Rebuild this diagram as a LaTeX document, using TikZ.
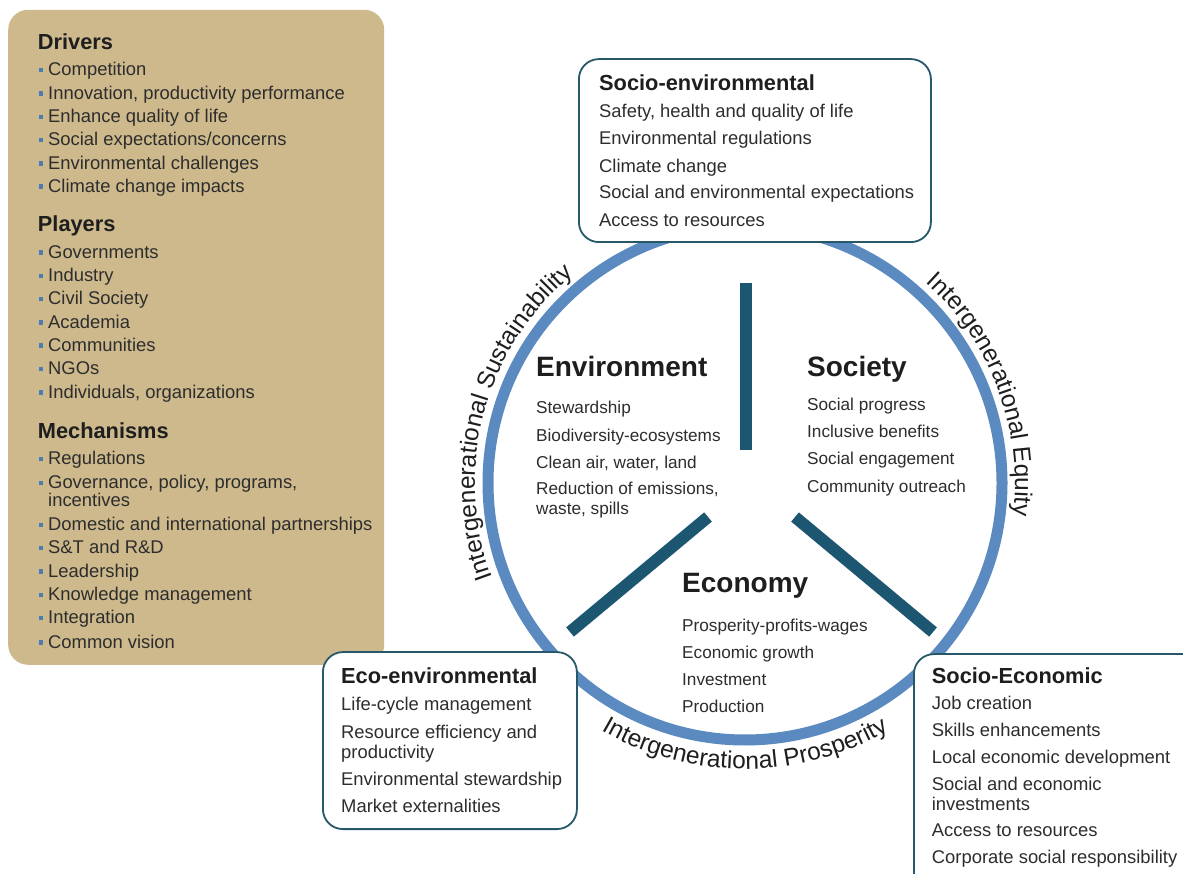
\documentclass[tikz,border=0pt]{standalone}
\usepackage{fontspec}
\setmainfont{Liberation Sans}
\usetikzlibrary{decorations.text}

\definecolor{panel}{RGB}{205,185,140}
\definecolor{ringblue}{RGB}{90,138,192}
\definecolor{spoke}{RGB}{28,86,112}
\definecolor{frame}{RGB}{38,88,106}
\definecolor{bulletblue}{RGB}{74,126,178}
\definecolor{ink}{RGB}{30,30,30}
\definecolor{txt}{RGB}{45,45,45}

% small square bullet used in the left panel
\newcommand\sqbul{{\color{bulletblue}\rule[3.5pt]{4.5pt}{4.5pt}}\hspace{5.2pt}}
\newcommand\arcfont{\fontsize{24.5}{24.5}\selectfont}

\tikzset{
  head/.style={anchor=base west, inner sep=0pt, text=ink,
    font=\bfseries\fontsize{21.8}{24}\selectfont},
  item/.style={anchor=base west, inner sep=0pt, text=txt,
    font=\fontsize{18.4}{22}\selectfont},
  inneritem/.style={item, font=\fontsize{17.2}{20}\selectfont},
  bighead/.style={head, font=\bfseries\fontsize{28}{30}\selectfont},
  infobox/.style={draw=frame, line width=1.8pt, fill=white,
    rounded corners=20pt, anchor=south west, inner sep=0pt},
  arclabel/.style={decorate, decoration={text along path,
    text align=center, text color=ink, text={|\arcfont|#1}}}
}

\begin{document}
\begin{tikzpicture}[x=1pt, y=1pt]
\useasboundingbox (0,0) rectangle (1183,873);
\clip (0,0) rectangle (1183,873);
\fill[white] (0,0) rectangle (1183,873);

% ---------------- left panel ----------------
\node[fill=panel, rounded corners=20pt, anchor=south west, inner sep=0pt,
      minimum width=376pt, minimum height=655pt] (panel) at (8,208) {};

\node[head] (drivers) at (37.7,823) {Drivers};
\foreach \t [count=\i] in {Competition, {Innovation, productivity performance},
    Enhance quality of life, Social expectations/concerns,
    Environmental challenges, Climate change impacts}
  \node[item] (drv\i) at (38.3,{797-23.3*(\i-1)}) {\sqbul\t};

\node[head] (players) at (37.7,641.3) {Players};
\foreach \t [count=\i] in {Governments, Industry, Civil Society, Academia,
    Communities, NGOs, {Individuals, organizations}}
  \node[item] (ply\i) at (38.3,{614.7-23.3*(\i-1)}) {\sqbul\t};

\node[head] (mech) at (37.7,434.7) {Mechanisms};
\node[item] (mec1) at (38.3,408) {\sqbul Regulations};
\node[item] (mec2) at (38.3,384) {\sqbul Governance, policy, programs,};
\node[item] (mec2b) at (48,366.3) {incentives};
\node[item] (mec3) at (38.3,342.3) {\sqbul Domestic and international partnerships};
\node[item] (mec4) at (38.3,319) {\sqbul S\&T and R\&D};
\node[item] (mec5) at (38.3,295.7) {\sqbul Leadership};
\node[item] (mec6) at (38.3,272.3) {\sqbul Knowledge management};
\node[item] (mec7) at (38.3,249) {\sqbul Integration};
\node[item] (mec8) at (38.3,224.7) {\sqbul Common vision};

% ---------------- ring and spokes ----------------
\coordinate (c) at (745,390);
\draw[ringblue, line width=11pt] (c) circle[radius=257];

\coordinate (vtop) at (746,590);
\coordinate (vbot) at (746,423);
\coordinate (ltop) at (708,356);
\coordinate (lbot) at (570,241);
\coordinate (rtop) at (795,356);
\coordinate (rbot) at (933,241);
\draw[spoke, line width=12pt] (vtop) -- (vbot);
\draw[spoke, line width=12pt] (ltop) -- (lbot);
\draw[spoke, line width=12pt] (rtop) -- (rbot);

% curved labels around the ring
\begin{scope}[shift={(c)}]
  \path[arclabel={Intergenerational Sustainability}]
    (255:270) arc[start angle=255, end angle=75, radius=270];
  \path[arclabel={Intergenerational Equity}]
    (110.5:270) arc[start angle=110.5, end angle=-69.5, radius=270];
  \path[arclabel={Intergenerational Prosperity}]
    (180:286) arc[start angle=180, end angle=360, radius=286];
\end{scope}

% ---------------- centre texts ----------------
\node[bighead] (env) at (536,496.3) {Environment};
\node[inneritem] (env1) at (536,459.7) {Stewardship};
\node[inneritem] (env2) at (536,431.3) {Biodiversity-ecosystems};
\node[inneritem] (env3) at (536,404.7) {Clean air, water, land};
\node[inneritem] (env4) at (536,378) {Reduction of emissions,};
\node[inneritem] (env5) at (536,358) {waste, spills};

\node[bighead] (soc) at (807,496) {Society};
\node[inneritem] (soc1) at (807,462.5) {Social progress};
\node[inneritem] (soc2) at (807,435.5) {Inclusive benefits};
\node[inneritem] (soc3) at (807,408.5) {Social engagement};
\node[inneritem] (soc4) at (807,380.5) {Community outreach};

\node[bighead] (eco) at (682,280) {Economy};
\node[inneritem] (eco1) at (682,241) {Prosperity-profits-wages};
\node[inneritem] (eco2) at (682,214) {Economic growth};
\node[inneritem] (eco3) at (682,187) {Investment};
\node[inneritem] (eco4) at (682,160) {Production};

% ---------------- boxes ----------------
\node[infobox, minimum width=352pt, minimum height=183pt] (sebox) at (578,630) {};
\node[head] (se) at (599,782) {Socio-environmental};
\node[item] (se1) at (599,755.3) {Safety, health and quality of life};
\node[item] (se2) at (599,728) {Environmental regulations};
\node[item] (se3) at (599,700.7) {Climate change};
\node[item] (se4) at (599,674) {Social and environmental expectations};
\node[item] (se5) at (599,646.3) {Access to resources};

\node[infobox, minimum width=254pt, minimum height=177pt] (eebox) at (322,43) {};
\node[head] (ee) at (341,189) {Eco-environmental};
\node[item] (ee1) at (341,162) {Life-cycle management};
\node[item] (ee2) at (341,135) {Resource efficiency and};
\node[item] (ee3) at (341,115) {productivity};
\node[item] (ee4) at (341,88) {Environmental stewardship};
\node[item] (ee5) at (341,61) {Market externalities};

\node[infobox, minimum width=290pt, minimum height=240pt] (sxbox) at (913,-22) {};
\node[head] (sx) at (931.7,189.7) {Socio-Economic};
\node[item] (sx1) at (931.7,163) {Job creation};
\node[item] (sx2) at (931.7,136.3) {Skills enhancements};
\node[item] (sx3) at (931.7,109.7) {Local economic development};
\node[item] (sx4) at (931.7,83) {Social and economic};
\node[item] (sx5) at (931.7,63) {investments};
\node[item] (sx6) at (931.7,36.3) {Access to resources};
\node[item] (sx7) at (931.7,9.7) {Corporate social responsibility};
\end{tikzpicture}
\end{document}
